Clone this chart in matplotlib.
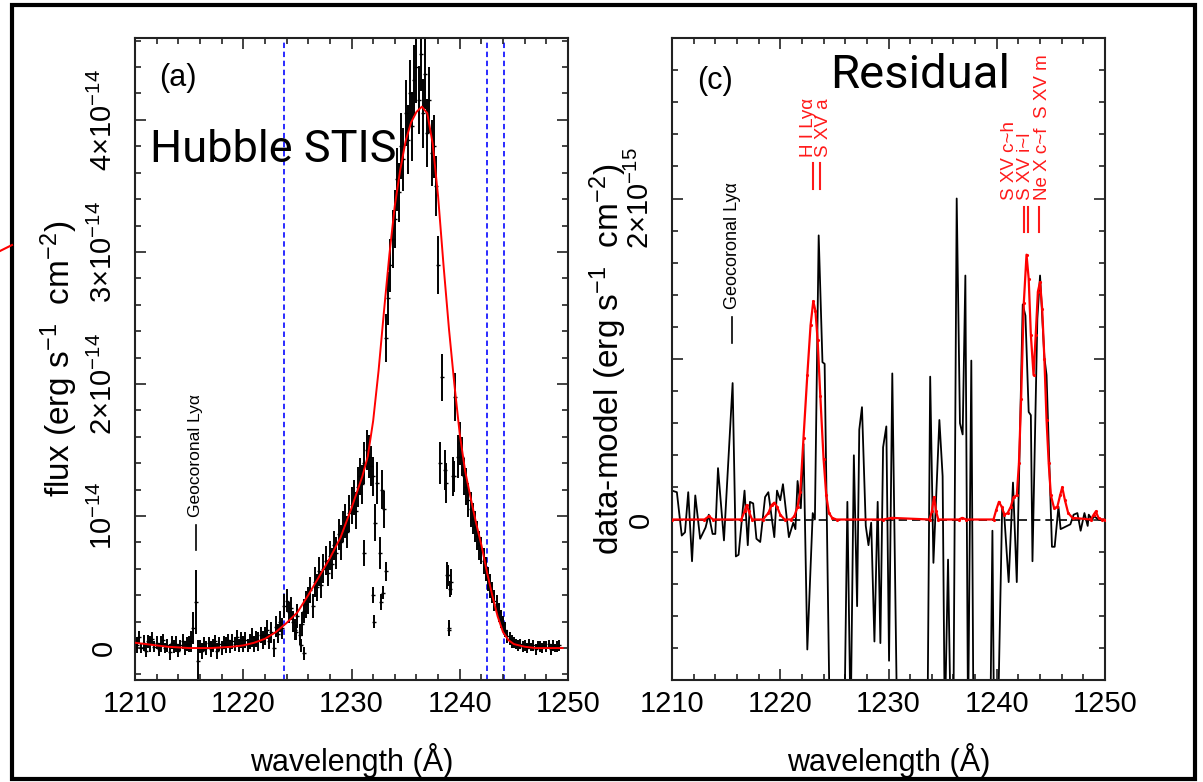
import numpy as np
import matplotlib
matplotlib.use('Agg')
import matplotlib.pyplot as plt
from matplotlib.lines import Line2D
from matplotlib.patches import Rectangle
from matplotlib.ticker import MultipleLocator

plt.rcParams['font.family'] = ['Liberation Sans', 'DejaVu Sans']
plt.rcParams['mathtext.fontset'] = 'custom'
plt.rcParams['mathtext.rm'] = 'Liberation Sans'
plt.rcParams['mathtext.it'] = 'Liberation Sans:italic'
plt.rcParams['mathtext.bf'] = 'Liberation Sans:bold'

# ---------------- panel (a): Hubble STIS spectrum (units 1e-14) ----------------
wl_a_start = 1210.0
wl_a_step = 0.2
flux_a = [
    0.06, 0.02, 0.08, 0.00, 0.04, -0.02, 0.05, 0.03, 0.07, 0.01,
    0.04, -0.01, 0.03, 0.06, 0.00, 0.02, -0.03, 0.04, 0.01, 0.03,
    -0.02, 0.02, 0.05, 0.00, 0.03, 0.03, 0.05, 0.15, 0.35, -0.10,
    0.01, -0.02, 0.03, 0.00, 0.04, -0.01, 0.02, 0.05, -0.02, 0.03,
    0.00, 0.04, 0.02, 0.06, 0.01, 0.05, 0.03, 0.08, 0.02, 0.06,
    0.03, 0.06, 0.02, 0.05, 0.08, 0.03, 0.07, 0.05, 0.10, 0.06,
    0.09, 0.14, 0.05, 0.12, 0.00, 0.16, 0.11, 0.20, 0.15, 0.32,
    0.36, 0.27, 0.30, 0.20, 0.14, 0.24, 0.10, 0.18, 0.28, 0.33,
    0.36, 0.44, 0.32, 0.50, 0.46, 0.58, 0.48, 0.60, 0.66, 0.57,
    0.70, 0.64, 0.78, 0.72, 0.86, 0.80, 0.92, 0.96, 0.88, 1.02,
    1.08, 1.14, 1.04, 1.22, 1.30, 1.24, 1.40, 1.50, 1.45, 1.38,
    1.30, 0.95, 1.25, 0.72, 1.20, 1.05, 2.35, 2.65, 2.90, 3.10,
    3.25, 3.55, 3.45, 3.80, 3.70, 4.05, 3.85, 4.20, 3.95, 4.30,
    4.40, 4.15, 4.50, 4.05, 4.35, 3.90, 4.15, 3.75, 3.80, 3.50,
    2.90, 1.40, 2.05, 1.35, 0.55, 0.15, 0.50, 1.30, 1.90, 1.45,
    1.55, 1.45, 1.30, 1.22, 1.12, 1.05, 0.98, 0.92, 0.85, 0.78,
    0.74, 0.66, 0.60, 0.52, 0.47, 0.42, 0.36, 0.33, 0.27, 0.22,
    0.18, 0.14, 0.09, 0.07, 0.05, 0.04, 0.03, 0.02, 0.03, 0.01,
    0.02, 0.00, 0.03, 0.01, 0.02, -0.01, 0.02, 0.01, 0.00, 0.02,
    0.01, 0.03, -0.01, 0.02, 0.00, 0.01, 0.02,
]
err_a = [
    0.05, 0.06, 0.05, 0.04, 0.06, 0.05, 0.05, 0.06, 0.05, 0.04,
    0.05, 0.05, 0.06, 0.05, 0.04, 0.05, 0.06, 0.05, 0.05, 0.06,
    0.05, 0.04, 0.06, 0.05, 0.05, 0.06, 0.08, 0.12, 0.24, 0.16,
    0.05, 0.06, 0.05, 0.05, 0.04, 0.06, 0.05, 0.05, 0.06, 0.05,
    0.05, 0.05, 0.06, 0.05, 0.05, 0.06, 0.05, 0.06, 0.05, 0.06,
    0.06, 0.06, 0.05, 0.06, 0.07, 0.06, 0.06, 0.07, 0.06, 0.07,
    0.07, 0.07, 0.06, 0.08, 0.07, 0.08, 0.07, 0.08, 0.08, 0.09,
    0.09, 0.08, 0.09, 0.08, 0.08, 0.09, 0.08, 0.09, 0.09, 0.10,
    0.10, 0.10, 0.09, 0.11, 0.10, 0.11, 0.10, 0.11, 0.11, 0.10,
    0.11, 0.12, 0.11, 0.12, 0.12, 0.13, 0.12, 0.13, 0.12, 0.14,
    0.14, 0.13, 0.14, 0.15, 0.14, 0.15, 0.16, 0.15, 0.16, 0.15,
    0.15, 0.14, 0.16, 0.12, 0.15, 0.14, 0.18, 0.20, 0.20, 0.22,
    0.22, 0.24, 0.22, 0.25, 0.24, 0.25, 0.26, 0.25, 0.26, 0.27,
    0.27, 0.26, 0.28, 0.26, 0.27, 0.26, 0.25, 0.25, 0.24, 0.23,
    0.22, 0.16, 0.18, 0.15, 0.10, 0.06, 0.10, 0.15, 0.18, 0.16,
    0.16, 0.15, 0.14, 0.14, 0.13, 0.13, 0.12, 0.12, 0.11, 0.11,
    0.10, 0.10, 0.09, 0.09, 0.09, 0.08, 0.08, 0.07, 0.07, 0.07,
    0.06, 0.06, 0.05, 0.05, 0.05, 0.04, 0.04, 0.04, 0.04, 0.04,
    0.04, 0.04, 0.04, 0.03, 0.04, 0.04, 0.03, 0.04, 0.04, 0.03,
    0.04, 0.03, 0.04, 0.04, 0.03, 0.04, 0.04,
]
wl_a = wl_a_start + wl_a_step * np.arange(len(flux_a))

# isolated absorbed points
wl_dip = [1224.9, 1225.3, 1225.6, 1231.2, 1232.0, 1232.1, 1232.7, 1232.9, 1233.2,
          1238.7, 1238.9, 1239.0, 1239.1, 1239.5]
flux_dip = [0.12, 0.02, -0.04, 0.72, 0.40, 0.20, 0.35, 0.42, 0.58,
            1.25, 0.55, 0.14, 0.45, 1.30]
err_dip = [0.06, 0.05, 0.05, 0.10, 0.06, 0.05, 0.06, 0.05, 0.07,
           0.15, 0.08, 0.05, 0.06, 0.12]

# model (red) in panel (a)
wl_mod_a = [1210, 1211, 1212, 1213, 1214, 1215, 1216, 1217, 1218, 1219, 1220, 1221,
            1222, 1223, 1224, 1225, 1226, 1227, 1228, 1229, 1230, 1231, 1231.5,
            1232, 1232.5, 1233, 1233.5, 1234, 1234.5, 1235, 1235.5, 1236, 1236.5,
            1237, 1237.5, 1238, 1238.5, 1239, 1239.5, 1240, 1240.5, 1241, 1241.5,
            1242, 1242.5, 1243, 1243.5, 1244, 1244.5, 1245, 1246, 1247, 1248, 1249, 1249.5]
flux_mod_a = [0.04, 0.03, 0.02, 0.01, 0.005, 0.0, 0.0, 0.0, 0.005, 0.01, 0.02, 0.04,
              0.07, 0.12, 0.19, 0.27, 0.40, 0.54, 0.68, 0.84, 1.06, 1.30, 1.45,
              1.72, 2.10, 2.55, 2.98, 3.35, 3.62, 3.84, 3.98, 4.06, 4.10,
              4.05, 3.82, 3.42, 2.90, 2.42, 2.00, 1.62, 1.34, 1.14, 0.95,
              0.78, 0.58, 0.40, 0.24, 0.12, 0.06, 0.03, 0.01, 0.0, 0.0, 0.0, 0.0]

line_marks_a = [1223.8, 1242.55, 1244.05]

# ---------------- panel (c): residual (units 1e-15) ----------------
wl_res = [1210.0, 1210.45, 1210.9, 1211.2, 1211.5, 1211.85, 1212.15, 1212.6, 1213.1, 1213.4,
          1213.75, 1214.0, 1214.25, 1214.8, 1215.6, 1215.9, 1216.15, 1216.7, 1217.0, 1217.2,
          1217.5, 1217.8, 1218.15, 1218.6, 1218.9, 1219.45, 1219.7, 1220.0, 1220.25, 1220.8,
          1221.2, 1221.4, 1221.6, 1221.9, 1222.15, 1222.5, 1223.0, 1223.2, 1223.55, 1223.9,
          1224.1, 1224.6, 1225.9, 1226.2, 1226.5, 1226.8, 1227.1, 1227.3, 1227.55, 1227.9,
          1228.15, 1228.4, 1228.7, 1229.0, 1229.25, 1229.5, 1229.8, 1230.05, 1230.35, 1230.8,
          1231.5, 1232.5, 1233.6, 1233.85, 1234.15, 1234.7, 1235.0, 1235.2, 1235.5, 1235.75,
          1236.0, 1236.3, 1236.6, 1236.85, 1237.1, 1237.35, 1237.65, 1237.85, 1238.5, 1239.4,
          1239.6, 1239.75, 1240.1, 1240.5, 1240.7, 1241.1, 1241.5, 1241.85, 1242.4, 1242.65,
          1242.95, 1243.15, 1243.3, 1243.75, 1244.0, 1244.4, 1244.6, 1245.1, 1245.35, 1245.7,
          1245.9, 1246.5, 1246.8, 1247.1, 1247.45, 1247.75, 1248.1, 1248.4, 1248.5, 1248.8,
          1249.0, 1249.4, 1250.0]
res = [0.18, 0.17, -0.10, -0.08, 0.17, -0.26, 0.15, -0.12, -0.05, 0.03,
       -0.09, -0.09, 0.32, -0.13, 0.85, -0.23, -0.22, 0.18, -0.16, 0.11,
       0.10, -0.12, -0.14, 0.14, 0.17, -0.11, 0.18, 0.12, 0.22, -0.11,
       -0.02, -0.06, 0.24, 0.07, 0.47, -0.81, 0.04, 0.0, 1.77, 0.98,
       0.97, -1.4, -1.4, 0.11, -1.3, 0.40, -0.54, 0.56, 0.70, -0.04,
       -0.16, -0.02, -0.76, 0.11, -0.77, 0.45, 0.58, -0.88, 0.91, -1.3,
       -1.6, -1.5, -1.3, 0.89, -0.27, 0.62, 0.27, -1.3, -0.25, -1.3,
       -1.2, 2.0, 0.60, 0.53, 1.52, -1.3, 0.99, -1.3, -1.6, -1.3,
       -0.07, -1.3, -1.3, 0.08, 0.02, -0.39, 0.23, -0.39, 1.34, 1.27,
       0.67, 0.65, -0.26, 1.25, 1.52, 1.01, 0.90, -0.17, -0.17, 0.08,
       -0.06, -0.04, -0.03, 0.03, 0.04, -0.07, 0.04, -0.04, 0.03, 0.00,
       0.02, 0.0, 0.0]

wl_mod_c = [1210.0, 1213.0, 1213.4, 1213.8, 1216.4, 1216.7, 1216.9, 1217.1, 1217.4, 1218.4,
            1218.9, 1219.2, 1219.45, 1219.7, 1220.0, 1220.4, 1221.0, 1221.3, 1221.6, 1221.85,
            1222.15, 1222.5, 1222.8, 1223.05, 1223.25, 1223.45, 1223.7, 1224.0, 1224.25, 1224.5,
            1224.8, 1225.2, 1229.5, 1230.3, 1233.8, 1234.0, 1234.2, 1234.4, 1234.6, 1236.5,
            1236.8, 1237.2, 1239.7, 1239.95, 1240.2, 1240.45, 1240.7, 1241.0, 1241.3, 1241.55,
            1241.85, 1242.05, 1242.25, 1242.5, 1242.75, 1242.95, 1243.15, 1243.4, 1243.6, 1243.8,
            1244.0, 1244.2, 1244.4, 1244.6, 1244.8, 1245.0, 1245.3, 1245.6, 1245.85, 1246.05,
            1246.3, 1246.6, 1247.0, 1248.7, 1248.95, 1249.15, 1249.4, 1249.7, 1250.0]
mod_c = [0.0, 0.0, 0.02, 0.0, 0.0, 0.05, 0.09, 0.05, 0.0, 0.0,
         0.04, 0.09, 0.105, 0.08, 0.03, 0.0, 0.0, 0.02, 0.08, 0.17,
         0.51, 0.90, 1.21, 1.36, 1.30, 1.12, 0.77, 0.38, 0.15, 0.04,
         0.01, 0.0, 0.0, 0.01, 0.0, 0.05, 0.14, 0.05, 0.0, 0.0,
         0.01, 0.0, 0.0, 0.06, 0.11, 0.08, 0.03, 0.04, 0.08, 0.14,
         0.15, 0.35, 0.75, 1.35, 1.65, 1.50, 1.15, 0.90, 1.15, 1.42,
         1.48, 1.31, 1.00, 0.62, 0.35, 0.15, 0.07, 0.08, 0.15, 0.20,
         0.12, 0.04, 0.01, 0.0, 0.03, 0.05, 0.01, 0.0, 0.0]

# ---------------- figure ----------------
W, H = 1203, 782
fig = plt.figure(figsize=(W / 100, H / 100), dpi=100)


def px_axes(x0, x1, y0, y1):
    return fig.add_axes([x0 / W, 1 - y1 / H, (x1 - x0) / W, (y1 - y0) / H])


axL = px_axes(135, 568, 38, 680)
axR = px_axes(672, 1105, 38, 680)

for ax in (axL, axR):
    ax.set_xlim(1210, 1250)
    ax.xaxis.set_major_locator(MultipleLocator(10))
    ax.xaxis.set_minor_locator(MultipleLocator(2))
    ax.yaxis.set_minor_locator(MultipleLocator(0.2))
    ax.tick_params(which='both', direction='in', top=True, right=True, width=1.2,
                   colors='#222222', labelcolor='black')
    ax.tick_params(which='major', length=8)
    ax.tick_params(which='minor', length=4.5)
    ax.tick_params(axis='x', labelsize=21, pad=7)
    ax.tick_params(axis='y', labelsize=21, labelrotation=90)
    for s in ax.spines.values():
        s.set_linewidth(1.5)
        s.set_color('#222222')

# ---- left panel
axL.set_ylim(-0.242, 4.62)
axL.set_yticks([0, 1, 2, 3, 4])
axL.set_yticklabels(['0', r'$10^{-14}$', '2×$10^{-14}$', '3×$10^{-14}$', '4×$10^{-14}$'])
axL.tick_params(axis='y', pad=12)
for xv in line_marks_a:
    axL.axvline(xv, color='#1a1aff', lw=1.3, ls=(0, (3, 2)), zorder=1)
axL.errorbar(wl_a, flux_a, yerr=err_a, fmt='_', color='black', ms=3, mew=1.0,
             elinewidth=1.4, capsize=0, zorder=2)
axL.errorbar(wl_dip, flux_dip, yerr=err_dip, fmt='_', color='black', ms=3, mew=1.0,
             elinewidth=1.4, capsize=0, zorder=2)
axL.plot(wl_mod_a, flux_mod_a, color='red', lw=1.4, zorder=3)
axL.text(1215.6, 0.99, 'Geocoronal Lyα', rotation=90, ha='center', va='bottom', fontsize=12.5)
axL.plot([1215.6, 1215.6], [0.74, 0.93], color='black', lw=1.2)
axL.text(0.099, 0.938, '(a)', transform=axL.transAxes, fontsize=22, ha='center', va='center')
axL.text(0.035, 0.826, 'Hubble STIS', transform=axL.transAxes, fontsize=32.5,
         family=['Roboto', 'DejaVu Sans'], ha='left', va='center')
axL.set_xlabel('wavelength (Å)', fontsize=22)
axL.xaxis.set_label_coords(0.5, -0.098)
axL.set_ylabel(r'flux (erg $\mathregular{s^{-1}}$  $\mathregular{cm^{-2}}$)', fontsize=24)
axL.yaxis.set_label_coords(-0.126, 0.5)

# ---- right panel
axR.set_ylim(-1.0, 3.0)
axR.set_yticks([-1, 0, 1, 2, 3])
axR.set_yticklabels(['', '0', '', '2×$10^{-15}$', ''])
axR.tick_params(axis='y', pad=12)
axR.axhline(0, color='black', lw=1.2, ls=(0, (5, 3)), zorder=1)
axR.plot(wl_res, res, color='black', lw=1.3, zorder=2)
axR.plot(wl_mod_c, mod_c, color='red', lw=1.6, marker='.', ms=2.5, zorder=3)
axR.text(1215.55, 1.31, 'Geocoronal Lyα', rotation=90, ha='center', va='bottom', fontsize=13)
axR.plot([1215.55, 1215.55], [1.10, 1.26], color='black', lw=1.2)
red = '#ff1a1a'
for xt, s in [(1222.6, 'H I Lyα'), (1223.95, 'S XV a')]:
    axR.text(xt, 2.26, s, rotation=90, ha='center', va='bottom', fontsize=13.5, color=red)
for xl in (1223.05, 1223.65):
    axR.plot([xl, xl], [2.06, 2.22], color=red, lw=1.5)
for xt, s in [(1241.2, 'S XV c~h'), (1242.65, 'S XV i~l'), (1244.2, 'Ne X c~f')]:
    axR.text(xt, 1.99, s, rotation=90, ha='center', va='bottom', fontsize=13.5, color=red)
axR.text(1244.2, 2.50, 'S XV m', rotation=90, ha='center', va='bottom', fontsize=13.5, color=red)
for xl in (1242.5, 1242.85, 1243.86):
    axR.plot([xl, xl], [1.79, 1.95], color=red, lw=1.5)
axR.text(0.10, 0.933, '(c)', transform=axR.transAxes, fontsize=22, ha='center', va='center')
axR.text(0.365, 0.942, 'Residual', transform=axR.transAxes, fontsize=34,
         family=['Roboto', 'DejaVu Sans'], ha='left', va='center')
axR.set_xlabel('wavelength (Å)', fontsize=22)
axR.xaxis.set_label_coords(0.5, -0.098)
axR.set_ylabel(r'data-model (erg $\mathregular{s^{-1}}$  $\mathregular{cm^{-2}}$)', fontsize=24)
axR.yaxis.set_label_coords(-0.1, 0.5)

for ax in (axL, axR):
    for lab in ax.get_yticklabels():
        lab.set_va('center')

# slide frame and stray arrow fragment
fig.add_artist(Rectangle((12 / W, 1 - 779 / H), (1195 - 12) / W, (779 - 5) / H,
                         transform=fig.transFigure, fill=False, lw=3, ec='black'))
fig.add_artist(Line2D([0, 12 / W], [1 - 251 / H, 1 - 245 / H], color='red', lw=1.5,
                      transform=fig.transFigure))

fig.savefig('out.png', dpi=100)
